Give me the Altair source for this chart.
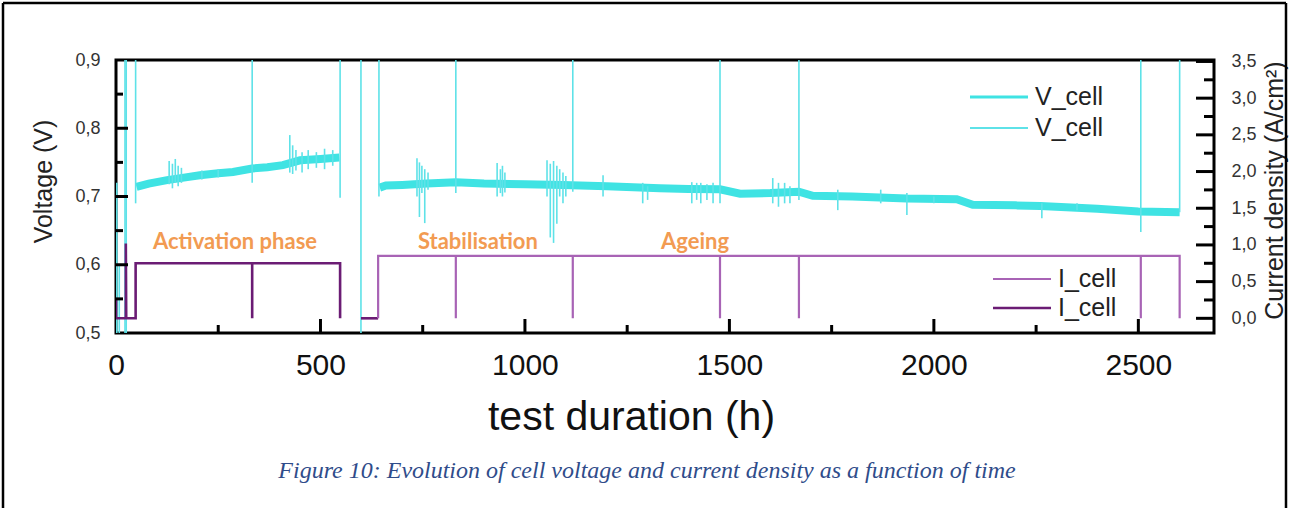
import altair as alt
import pandas as pd

# ---------------- data ----------------
# Cell voltage, main (noisy) band: activation phase
va_h = [50, 80, 125, 170, 205, 250, 286, 333, 370, 408, 450, 500, 546]
va_v = [0.714, 0.719, 0.724, 0.728, 0.731, 0.734, 0.736, 0.741, 0.743, 0.746, 0.753, 0.755, 0.757]
# Cell voltage, main band: stabilisation + ageing
vb_h = [645, 660, 700, 760, 831, 900, 1000, 1093, 1200, 1330, 1400, 1477, 1526, 1600, 1670,
        1704, 1800, 1934, 2056, 2095, 2200, 2260, 2400, 2500, 2601]
vb_v = [0.713, 0.716, 0.717, 0.719, 0.721, 0.719, 0.718, 0.717, 0.715, 0.712, 0.711, 0.7105, 0.704,
        0.705, 0.707, 0.701, 0.700, 0.697, 0.696, 0.688, 0.687, 0.686, 0.682, 0.678, 0.677]

# Voltage spikes (hour, low V, high V)
sp_h = [2, 8, 22, 25, 48, 333, 548, 599, 643, 831, 1117, 1477, 1670, 2506, 2601,
        130, 138, 145, 152, 160, 210, 250, 425, 432, 440, 455, 470, 490, 510, 530,
        736, 742, 748, 755, 763, 932, 940, 945, 951,
        1054, 1062, 1070, 1078, 1085, 1093, 1100, 1191, 1288, 1300,
        1408, 1420, 1430, 1445, 1460, 1606, 1620, 1635, 1648, 1765, 1870, 1934, 2000, 2264, 2350]
sp_lo = [0.50, 0.50, 0.50, 0.50, 0.69, 0.72, 0.698, 0.50, 0.70, 0.705, 0.707, 0.69, 0.695, 0.648, 0.677,
         0.718, 0.712, 0.72, 0.715, 0.72, 0.725, 0.728, 0.735, 0.733, 0.738, 0.735, 0.74, 0.742, 0.74, 0.745,
         0.70, 0.67, 0.705, 0.661, 0.71, 0.70, 0.705, 0.70, 0.706,
         0.70, 0.64, 0.632, 0.66, 0.70, 0.69, 0.70, 0.70, 0.69, 0.695,
         0.69, 0.695, 0.69, 0.695, 0.69, 0.69, 0.685, 0.69, 0.69, 0.68, 0.69, 0.673, 0.69, 0.668, 0.68]
sp_hi = [0.72, 0.60, 0.90, 0.90, 0.90, 0.90, 0.90, 0.90, 0.90, 0.90, 0.90, 0.90, 0.90, 0.90, 0.90,
         0.752, 0.748, 0.755, 0.745, 0.742, 0.738, 0.740, 0.790, 0.775, 0.768, 0.765, 0.768, 0.765, 0.770, 0.768,
         0.756, 0.750, 0.745, 0.740, 0.735, 0.749, 0.740, 0.745, 0.735,
         0.753, 0.748, 0.752, 0.745, 0.740, 0.735, 0.730, 0.731, 0.720, 0.715,
         0.721, 0.720, 0.720, 0.718, 0.720, 0.727, 0.720, 0.720, 0.715, 0.710, 0.710, 0.705, 0.700, 0.690, 0.690]

# Current density, first (dark) trace: start-up + activation phase
id_h = [0, 0, 24, 24, 25, 48, 48, 333, 333, 333, 548, 548, 599, 641]
id_c = [0.25, 0.0, 0.0, 1.02, 0.0, 0.0, 0.75, 0.75, 0.0, 0.75, 0.75, 0.0, 0.0, 0.0]
id_seg = [0, 0, 0, 0, 0, 0, 0, 0, 0, 0, 0, 0, 1, 1]
# Current density, second (light) trace: stabilisation + ageing
il_h = [641, 641, 831, 831, 831, 1117, 1117, 1117, 1477, 1477, 1477, 1670, 1670, 1670,
        2506, 2506, 2506, 2601, 2601]
il_c = [0.0, 0.85, 0.85, 0.0, 0.85, 0.85, 0.0, 0.85, 0.85, 0.0, 0.85, 0.85, 0.0, 0.85,
        0.85, 0.0, 0.85, 0.85, 0.0]

# Phase annotations
ph_text = ["Activation phase", "Stabilisation", "Ageing"]
ph_h = [291, 885, 1416]
ph_v = [0.633, 0.633, 0.633]

# Axis ticks
x_major = [0, 500, 1000, 1500, 2000, 2500]
x_minor = [250, 750, 1250, 1750, 2250]
v_major = [0.5, 0.6, 0.7, 0.8, 0.9]
v_minor = [0.55, 0.65, 0.75, 0.85]
c_major = [0.0, 0.5, 1.0, 1.5, 2.0, 2.5, 3.0, 3.5]
c_minor = [0.25, 0.75, 1.25, 1.75, 2.25, 2.75, 3.25]

CAPTION = "Figure 10: Evolution of cell voltage and current density as a function of time"

# ---------------- styling ----------------
CYAN = "#3fe3e3"
CYAN2 = "#5ee2e8"
PURPLE_D = "#6b1c74"
PURPLE_L = "#a863b5"
ORANGE = "#f29b52"
SANS = "Liberation Sans"
W, H = 1098, 273

xs = alt.Scale(domain=[0, 2685], nice=False, zero=False)
vs = alt.Scale(domain=[0.5, 0.9], nice=False, zero=False)
cs = alt.Scale(domain=[-0.2, 3.52], nice=False, zero=False)

v_trend = pd.DataFrame({
    "h": va_h + vb_h,
    "v": va_v + vb_v,
    "seg": [0] * len(va_h) + [1] * len(vb_h),
})
v_trend["o"] = range(len(v_trend))
spikes = pd.DataFrame({"h": sp_h, "lo": sp_lo, "hi": sp_hi})
i_dark = pd.DataFrame({"h": id_h, "c": id_c, "seg": id_seg, "o": range(len(id_h))})
i_light = pd.DataFrame({"h": il_h, "c": il_c, "o": range(len(il_h))})
phases = pd.DataFrame({"t": ph_text, "h": ph_h, "v": ph_v})

comma = "replace(format(datum.value, '.1f'), '.', ',')"

x_axis = alt.Axis(values=x_major, format="d", ticks=False, domain=False, grid=False,
                  labelFlush=False, labelOverlap=False, labelPadding=17,
                  labelFont=SANS, labelFontSize=30, labelColor="#111",
                  title="test duration (h)", titleFont=SANS, titleFontSize=41,
                  titleFontWeight="normal", titleColor="#111",
                  titleAlign="center", titleBaseline="top", titleX=515, titleY=64)

left_axis = alt.Axis(orient="left", values=v_major, labelExpr=comma, ticks=False,
                     domain=False, grid=False, labelPadding=16, labelFont=SANS,
                     labelFontSize=18, labelColor="#333",
                     title="Voltage (V)", titleFont=SANS, titleFontSize=25,
                     titleFontWeight="normal", titleColor="#222", titleAngle=270,
                     titleAlign="center", titleBaseline="middle", titleX=-73, titleY=121)

right_axis = alt.Axis(orient="right", values=c_major, labelExpr=comma, ticks=False,
                      domain=False, grid=False, labelPadding=17, labelFont=SANS,
                      labelFontSize=18, labelColor="#333",
                      title="Current density (A/cm²)", titleFont=SANS, titleFontSize=25,
                      titleFontWeight="normal", titleColor="#222", titleAngle=270,
                      titleAlign="center", titleBaseline="middle", titleX=60, titleY=130)


def X(field="h"):
    return alt.X(f"{field}:Q", scale=xs, axis=x_axis)


# main voltage band
l_vtrend = alt.Chart(v_trend).mark_line(color=CYAN, strokeWidth=8, clip=True).encode(
    x=X(), y=alt.Y("v:Q", scale=vs, axis=left_axis),
    detail="seg:N", order="o:Q")

l_spikes = alt.Chart(spikes).mark_rule(color=CYAN2, strokeWidth=1.6, clip=True).encode(
    x=X(), y=alt.Y("lo:Q", scale=vs, axis=None), y2="hi:Q")

l_idark = alt.Chart(i_dark).mark_line(color=PURPLE_D, strokeWidth=2.6, clip=True).encode(
    x=X(), y=alt.Y("c:Q", scale=cs, axis=None),
    detail="seg:N", order="o:Q")

l_ilight = alt.Chart(i_light).mark_line(color=PURPLE_L, strokeWidth=2.2, clip=True).encode(
    x=X(), y=alt.Y("c:Q", scale=cs, axis=right_axis),
    order="o:Q")

l_phase = alt.Chart(phases).mark_text(color=ORANGE, font="Lato", fontWeight="bold",
                                       fontSize=22, align="center", baseline="middle").encode(
    x=X(), y=alt.Y("v:Q", scale=vs, axis=None), text="t:N")


# inward ticks
def xt(vals, length):
    return alt.Chart(pd.DataFrame({"h": vals})).mark_rule(color="#000", strokeWidth=3).encode(
        x=X(), y=alt.value(H), y2=alt.value(H - length))


def vt(vals, length):
    return alt.Chart(pd.DataFrame({"v": vals})).mark_rule(color="#000", strokeWidth=3).encode(
        y=alt.Y("v:Q", scale=vs, axis=None), x=alt.value(0), x2=alt.value(length))


def ct(vals, length):
    return alt.Chart(pd.DataFrame({"c": vals})).mark_rule(color="#000", strokeWidth=3).encode(
        y=alt.Y("c:Q", scale=cs, axis=None), x=alt.value(W), x2=alt.value(W - length))


one = pd.DataFrame({"k": [0]})


def seg(x1, x2, y1, y2, color, width):
    return alt.Chart(one).mark_rule(color=color, strokeWidth=width).encode(
        x=alt.value(x1), x2=alt.value(x2), y=alt.value(y1), y2=alt.value(y2))


def label(text, x, y, size=25, color="#222"):
    return alt.Chart(one).mark_text(text=text, font=SANS, fontSize=size, color=color,
                                    align="left", baseline="middle").encode(
        x=alt.value(x), y=alt.value(y))


legend = [
    seg(854, 912, 37, 37, CYAN, 3), label("V_cell", 919, 37),
    seg(854, 912, 68, 68, CYAN2, 2), label("V_cell", 919, 68),
    seg(877, 935, 219, 219, PURPLE_L, 2), label("I_cell", 942, 219),
    seg(877, 935, 248, 248, PURPLE_D, 2.5), label("I_cell", 942, 248),
]

caption = alt.Chart(one).mark_text(text=CAPTION, font="Liberation Serif", fontSize=24,
                                   fontStyle="italic", color="#2f4c8a", align="center",
                                   baseline="alphabetic").encode(
    x=alt.value(531), y=alt.value(418))

frame = [
    seg(-113, 1170, -57, -57, "#000", 2.5),
    seg(-113, -113, -57, 450, "#000", 2.5),
    seg(1170, 1170, -57, 450, "#000", 2.5),
]

chart = alt.layer(
    l_vtrend, l_spikes, l_idark, l_ilight, l_phase,
    xt(x_major[1:], 14), xt(x_minor, 8),
    vt(v_major[1:-1], 12), vt(v_minor, 7),
    ct(c_major, 18), ct(c_minor, 10),
    *legend, caption, *frame,
).resolve_scale(y="independent").properties(
    width=W, height=H,
    autosize=alt.AutoSizeParams(type="none"),
    padding={"left": 116, "top": 60, "right": 75, "bottom": 175},
    background="white",
).configure_view(stroke="#000", strokeWidth=3)

chart.save("out.html", embed_options={"renderer": "svg", "actions": False})
